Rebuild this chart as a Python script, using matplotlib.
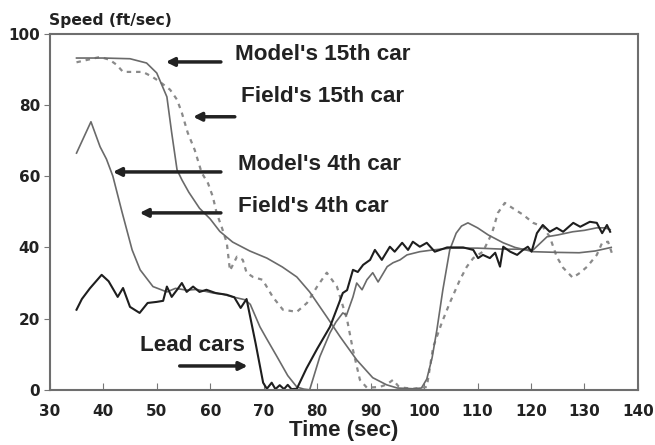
import matplotlib
matplotlib.use("Agg")
from matplotlib import pyplot as plt

# field data, 15th car (dotted)
t_f15 = [35, 39.4, 41.2, 42.5, 43.7, 45.6, 47.4, 49.1, 50.6, 52.5, 53.8, 54.7, 55.8, 57.1,
         58.4, 59.6, 60.5, 61.2, 62.2, 63.1, 63.7, 65.0, 66.1, 66.8, 68.0, 69.8, 71.7, 73.6,
         76.2, 78.1, 80.0, 81.8, 83.7, 85.6, 86.7, 88.0, 89.3, 91.7, 93.0, 94.2, 95.2, 96.0,
         98.0, 100.5, 101.7, 103.3, 104.8, 106.7, 108.0, 109.2, 111.0, 112.7, 113.8, 115.1,
         116.6, 118.5, 120.4, 122.2, 123.5, 124.8, 126.0, 127.8, 129.2, 130.5, 132.3, 133.3,
         134.4, 135.1]
v_f15 = [92, 93.5, 92.7, 91.3, 89.3, 89.3, 89.3, 88, 86.5, 84.3, 81.5, 77.8, 72.2, 67.4,
         61, 58, 54.2, 49.7, 45.5, 41.3, 33.5, 37.4, 36.5, 32.9, 31.7, 30.9, 26.1, 22.5,
         21.9, 24.4, 29, 32.9, 29, 19.7, 11.2, 2.8, 0.6, 0.8, 1.5, 2.8, 1.0, 0.6,
         0.3, 0.8, 12, 18.8, 24.4, 30.9, 34.6, 37, 38.8, 44, 49.7, 52.5,
         51, 49.2, 46.9, 45.8, 43, 37.4, 34.3, 31.5, 32.9, 34.6, 37.9, 41.3,
         41.6, 38.5]

# model, 15th car
t_m15 = [35, 40, 45, 48.1, 50, 51.9, 52.8, 53.8, 54.7, 56, 58, 60, 61.8, 64.2, 67.4, 70.6,
         73.5, 76.2, 78.6, 80.2, 81.8, 84.3, 87.4, 90.4, 93, 95, 98, 99.5, 100.5, 101.5,
         102.4, 103.5, 104.8, 106, 107, 108.2, 110, 112, 114.8, 117, 120.4, 125, 129, 132, 135]
v_m15 = [93.2, 93.2, 93, 91.8, 89, 82.3, 72.2, 61.8, 59, 55.5, 51, 48, 44.5, 41.5, 39, 37,
         34.5, 31.7, 27.5, 24, 20.5, 14.9, 8.4, 3.4, 1.4, 0.5, 0.3, 0.5, 3, 9,
         16.9, 28, 39.3, 44, 46, 46.9, 45.5, 43.5, 41.3, 40, 38.8, 38.6, 38.5, 39, 40]

# model, 4th car
t_m4 = [35, 37.7, 39.4, 40.6, 41.8, 43.5, 45.4, 46.9, 49.3, 51.9, 53.5, 55.6, 57.5, 60.5, 62.5,
        64.2, 66.5, 67.5, 69.3, 70.5, 72.5, 74.5, 76.2, 77.5, 78.6, 80.5, 82.4, 83.5, 84.8,
        85.5, 86.7, 87.4, 88.4, 89.3, 90.4, 91.4, 93.1, 94.2, 95.5, 96.8, 99.2, 101.7, 105,
        110, 115, 118, 120.4, 123, 125, 127.8, 130, 132.3, 133.8, 134.8]
v_m4 = [66.5, 75.3, 68.3, 64.8, 60, 50, 39.3, 33.7, 29, 27.5, 28.5, 28, 28.2, 27.2, 26.8,
        26.1, 25.3, 24, 17.7, 14.5, 9.3, 4, 0.8, 0.2, 0, 9.3, 16, 19, 21.6,
        21, 26.1, 30, 28.1, 30.9, 32.9, 30.3, 34.6, 35.7, 36.5, 37.9, 38.8, 39.3, 39.8,
        39.8, 39.5, 39.5, 39.3, 43, 43.5, 44.4, 44.8, 45.5, 45.5, 45]

# lead car (field record)
t_lead = [35, 36, 37.5, 39.7, 41, 42.7, 43.7, 45, 46.8, 48.3, 50, 51.2, 51.9, 52.8, 54,
          54.7, 55.6, 56.8, 58, 59.3, 61, 63.1, 64.5, 65.7, 66.8, 68.5, 69.9, 70.6, 71.5,
          72.2, 73, 73.8, 74.5, 75.2, 76.2, 78, 80, 82.4, 84, 84.8, 85.6, 86.7, 87.6, 88.6,
          89.9, 90.8, 92.1, 93.6, 94.5, 95.9, 97, 97.9, 99.2, 100.5, 102, 104.3, 105.5,
          107.3, 109.2, 110.1, 111, 112.3, 113.3, 114.2, 114.8, 116.1, 117.4, 118.5, 119.4,
          120.1, 121.1, 122.2, 123.5, 124.8, 126, 127.9, 129.2, 131, 132.3, 133.3, 134.2,
          134.8]
v_lead = [22.5, 25.5, 28.5, 32.3, 30.5, 26.1, 28.6, 23.3, 21.6, 24.4, 24.7, 25, 29, 26.1, 28.5,
          30, 27.5, 29, 27.5, 28.1, 27.2, 26.7, 26, 23, 25.5, 13, 2, 0.3, 2.0,
          0.2, 1.3, 0.2, 1.4, 0.2, 0.3, 6, 11.5, 17.7, 24, 27.2, 28, 33.7, 33.1, 35.1,
          36.5, 39.3, 36.5, 40.2, 38.8, 41.3, 39.3, 41.6, 40.2, 41.3, 38.8, 40, 40,
          40, 39.3, 37, 37.9, 37, 38.5, 34.6, 40.2, 38.8, 37.9, 39.3, 40.2,
          38.8, 44, 46.3, 44.4, 45.5, 44.4, 46.9, 45.8, 47.2, 46.9, 44, 46.3,
          44.4]

labels = ["Model's 15th car", "Field's 15th car", "Model's 4th car", "Field's 4th car", "Lead cars"]
label_xy = [(64.6, 94.1), (65.7, 82.3), (65.2, 63.2), (65.2, 51.4), (46.8, 12.4)]
arrow_tail = [(62.0, 92.1), (64.6, 76.7), (62.0, 61.2), (62.0, 49.7), (54.3, 6.7)]
arrow_head = [(51.7, 92.1), (56.8, 76.7), (41.8, 61.2), (46.8, 49.7), (67.0, 6.7)]

fig = plt.figure(figsize=(6.55, 4.45), dpi=100)
ax = fig.add_axes([0.076, 0.124, 0.898, 0.800])

ax.plot(t_f15, v_f15, color="#8a8a8a", lw=1.6, linestyle=(0, (2, 2.2)))
ax.plot(t_m15, v_m15, color="#6a6a6a", lw=1.2)
ax.plot(t_m4, v_m4, color="#6a6a6a", lw=1.2)
ax.plot(t_lead, v_lead, color="#1e1e1e", lw=1.5)

for txt, (tx, ty), tail, head in zip(labels, label_xy, arrow_tail, arrow_head):
    ax.text(tx, ty, txt, fontsize=16.2, fontweight="bold", family="Liberation Sans",
            color="#222222", ha="left", va="center")
    ax.annotate("", xy=head, xytext=tail,
                arrowprops=dict(arrowstyle="-|>", color="#222222", lw=2.5,
                                mutation_scale=12, shrinkA=0, shrinkB=0))

ax.set_xlim(30, 140)
ax.set_ylim(0, 100)
ax.set_xticks(range(30, 150, 10))
ax.set_yticks(range(0, 120, 20))
for lab in ax.get_xticklabels() + ax.get_yticklabels():
    lab.set_fontweight("bold")
    lab.set_fontsize(11)
    lab.set_color("#222222")
ax.tick_params(axis="x", direction="in", length=5, pad=10, color="#777777")
ax.tick_params(axis="y", direction="out", length=4, pad=3, color="#777777")
for s in ax.spines.values():
    s.set_color("#6e6e6e")
    s.set_linewidth(1.5)

ax.set_xlabel("Time (sec)", fontsize=16, fontweight="bold", family="Liberation Sans",
              color="#222222", labelpad=1)
fig.text(0.075, 0.955, "Speed (ft/sec)", fontsize=11.2, fontweight="bold",
         color="#222222", ha="left", va="center")

fig.savefig("out.png", dpi=100)
